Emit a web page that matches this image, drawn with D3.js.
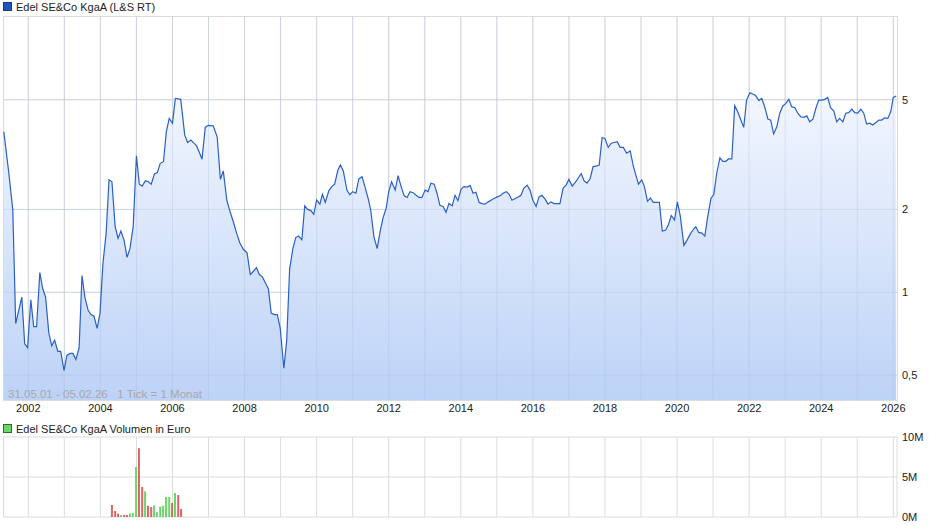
<!DOCTYPE html>
<html><head><meta charset="utf-8">
<script src="https://cdn.jsdelivr.net/npm/d3@7"></script>
<style>body{margin:0;background:#fff;font-family:"Liberation Sans",Arial,sans-serif}</style>
</head><body><svg id="c" width="940" height="526"></svg>
<script>
const dates=[2001.32,2001.46,2001.57,2001.65,2001.82,2001.90,2001.98,2002.07,2002.15,2002.23,2002.32,2002.40,2002.48,2002.57,2002.65,2002.73,2002.82,2002.90,2002.99,2003.07,2003.16,2003.24,2003.32,2003.41,2003.49,2003.57,2003.66,2003.74,2003.82,2003.91,2003.99,2004.07,2004.16,2004.24,2004.32,2004.41,2004.49,2004.57,2004.66,2004.74,2004.82,2004.91,2005.00,2005.08,2005.16,2005.25,2005.33,2005.41,2005.50,2005.58,2005.66,2005.75,2005.83,2005.91,2006.00,2006.08,2006.23,2006.34,2006.42,2006.51,2006.59,2006.67,2006.75,2006.82,2006.91,2006.99,2007.13,2007.24,2007.33,2007.41,2007.51,2007.60,2007.69,2007.78,2007.87,2007.97,2008.07,2008.16,2008.24,2008.33,2008.41,2008.49,2008.58,2008.66,2008.74,2008.83,2008.91,2008.99,2009.09,2009.17,2009.25,2009.34,2009.42,2009.50,2009.59,2009.67,2009.75,2009.84,2009.92,2010.00,2010.09,2010.16,2010.24,2010.34,2010.42,2010.50,2010.59,2010.66,2010.74,2010.84,2010.92,2011.00,2011.09,2011.17,2011.26,2011.34,2011.43,2011.50,2011.59,2011.68,2011.76,2011.84,2011.93,2012.00,2012.08,2012.18,2012.26,2012.34,2012.43,2012.51,2012.59,2012.68,2012.76,2012.84,2012.92,2013.01,2013.09,2013.17,2013.26,2013.34,2013.42,2013.51,2013.59,2013.67,2013.76,2013.84,2013.92,2014.01,2014.09,2014.17,2014.26,2014.34,2014.42,2014.51,2014.59,2014.67,2014.76,2014.84,2014.92,2015.01,2015.09,2015.17,2015.26,2015.34,2015.42,2015.51,2015.59,2015.67,2015.75,2015.84,2015.92,2016.00,2016.09,2016.17,2016.25,2016.34,2016.42,2016.50,2016.59,2016.67,2016.75,2016.84,2016.92,2017.00,2017.09,2017.17,2017.25,2017.34,2017.42,2017.50,2017.59,2017.67,2017.75,2017.84,2017.92,2018.00,2018.09,2018.17,2018.25,2018.34,2018.42,2018.51,2018.60,2018.70,2018.79,2018.93,2019.02,2019.09,2019.18,2019.26,2019.34,2019.51,2019.59,2019.68,2019.76,2019.84,2019.93,2020.01,2020.09,2020.19,2020.28,2020.37,2020.45,2020.52,2020.60,2020.69,2020.77,2020.85,2020.94,2021.02,2021.10,2021.19,2021.27,2021.35,2021.43,2021.52,2021.60,2021.68,2021.77,2021.85,2021.93,2022.02,2022.10,2022.18,2022.27,2022.35,2022.43,2022.52,2022.60,2022.68,2022.77,2022.85,2022.93,2023.02,2023.10,2023.18,2023.27,2023.35,2023.43,2023.52,2023.60,2023.68,2023.77,2023.85,2023.93,2024.02,2024.10,2024.18,2024.26,2024.35,2024.43,2024.51,2024.60,2024.68,2024.76,2024.85,2024.93,2025.01,2025.10,2025.18,2025.26,2025.35,2025.43,2025.51,2025.60,2025.68,2025.76,2025.85,2025.93,2026.00,2026.08];
const prices=[3.83,2.71,1.99,0.77,0.96,0.65,0.63,0.94,0.75,0.75,1.18,1.03,0.96,0.71,0.64,0.67,0.61,0.61,0.52,0.59,0.60,0.60,0.57,0.63,1.15,0.96,0.86,0.83,0.82,0.74,0.84,1.27,1.64,2.56,2.52,1.73,1.57,1.67,1.54,1.34,1.44,1.73,3.13,2.47,2.43,2.54,2.52,2.47,2.69,2.72,2.94,2.98,3.83,4.28,4.11,5.06,5.02,3.72,3.50,3.57,3.49,3.40,3.21,3.04,3.97,4.04,4.02,3.67,2.57,2.76,2.15,1.96,1.80,1.64,1.51,1.43,1.39,1.16,1.19,1.23,1.16,1.14,1.08,1.03,0.84,0.83,0.83,0.74,0.53,0.67,1.21,1.44,1.58,1.60,1.55,2.06,2.00,1.98,1.92,2.16,2.09,2.27,2.12,2.34,2.42,2.47,2.78,2.90,2.76,2.35,2.26,2.32,2.29,2.58,2.63,2.42,2.19,1.99,1.59,1.44,1.66,1.86,2.02,2.32,2.52,2.35,2.65,2.43,2.24,2.21,2.32,2.30,2.25,2.21,2.21,2.35,2.32,2.49,2.47,2.29,2.07,2.05,1.95,2.10,2.06,2.25,2.15,2.37,2.42,2.41,2.44,2.29,2.31,2.12,2.10,2.09,2.13,2.16,2.19,2.22,2.24,2.29,2.32,2.27,2.16,2.19,2.22,2.25,2.39,2.45,2.35,2.16,2.05,2.22,2.25,2.18,2.09,2.13,2.10,2.10,2.10,2.39,2.45,2.57,2.43,2.50,2.59,2.70,2.54,2.49,2.59,2.86,2.87,2.90,3.64,3.62,3.36,3.47,3.50,3.52,3.36,3.36,3.20,3.26,2.86,2.47,2.56,2.43,2.14,2.20,2.12,2.12,1.67,1.68,1.76,1.90,1.83,2.13,1.89,1.48,1.55,1.63,1.69,1.73,1.65,1.64,1.60,1.88,2.19,2.27,2.70,3.08,2.99,2.99,3.05,3.05,4.76,4.53,4.22,3.97,4.99,5.30,5.25,5.18,4.97,5.06,4.72,4.26,4.22,3.76,4.00,4.47,4.74,4.85,5.02,4.72,4.68,4.47,4.34,4.32,4.37,4.16,4.25,4.65,4.99,4.99,5.02,5.10,4.68,4.55,4.16,4.28,4.16,4.47,4.49,4.62,4.49,4.47,4.62,4.47,4.08,4.11,4.05,4.13,4.22,4.22,4.30,4.28,4.53,5.10,5.16];
const volDates=[2004.32,2004.41,2004.49,2004.57,2004.66,2004.74,2004.82,2004.90,2004.99,2005.07,2005.16,2005.24,2005.32,2005.41,2005.49,2005.57,2005.66,2005.74,2005.82,2005.91,2005.99,2006.07,2006.16,2006.24];
const volumes=[1.5,0.75,0.42,0.25,0.25,0.25,0.42,0.5,6.25,8.6,3.75,3.2,1.4,1.25,1.46,0.6,1.3,1.4,2.5,2.5,1.75,3.0,2.75,1.0];
const volUp=[0,0,0,1,0,0,1,1,1,0,0,1,0,0,1,1,1,1,1,1,0,1,0,0];
const yearTicks=[2002,2004,2006,2008,2010,2012,2014,2016,2018,2020,2022,2024,2026];
const priceTicks=[0.5,1,2,5];
const priceTickLabels=["0,5","1","2","5"];
const volTicks=[0,5,10];
const volTickLabels=["0M","5M","10M"];

const svg=d3.select("#c");
const L=3,R=897,T=16,B=400,VT=437,VB=517;
const x=d3.scaleLinear().domain([2002,2026]).range([28.3,893.3]);
const y=d3.scaleLog().domain([1,5]).range([292.3,99.8]);
const yv=d3.scaleLinear().domain([0,10]).range([VB,VT]);
const grid="#dcdcdc";
const defs=svg.append("defs");
const g=defs.append("linearGradient").attr("id","gr").attr("x1",0).attr("x2",0).attr("y1",0).attr("y2",1);
g.append("stop").attr("offset","0%").attr("stop-color","#f2f6fe");
g.append("stop").attr("offset","100%").attr("stop-color","#b9d0f6");
defs.append("clipPath").attr("id","cp").append("rect").attr("x",L).attr("y",T).attr("width",R-L).attr("height",B-T);

// main grid
const allYears=d3.range(2002,2027);
svg.selectAll(".vg").data(allYears).enter().append("line").attr("x1",d=>x(d)).attr("x2",d=>x(d)).attr("y1",T).attr("y2",B).attr("stroke",grid);
svg.selectAll(".hg").data(priceTicks).enter().append("line").attr("x1",L).attr("x2",R).attr("y1",d=>y(d)).attr("y2",d=>y(d)).attr("stroke",grid);
svg.append("rect").attr("x",L+0.5).attr("y",T+0.5).attr("width",R-L).attr("height",B-T).attr("fill","none").attr("stroke",grid);

const pts=dates.map((d,i)=>[d,prices[i]]);
svg.append("path").datum(pts).attr("clip-path","url(#cp)").attr("fill","url(#gr)").attr("fill-opacity",0.95)
 .attr("d",d3.area().x(d=>x(d[0])).y0(B).y1(d=>y(d[1])));
// grid over fill (faint)
svg.selectAll(".vg2").data(allYears).enter().append("line").attr("x1",d=>x(d)).attr("x2",d=>x(d)).attr("y1",T).attr("y2",B).attr("stroke","#9fb8de").attr("stroke-opacity",0.25);
svg.selectAll(".hg2").data(priceTicks).enter().append("line").attr("x1",L).attr("x2",R).attr("y1",d=>y(d)).attr("y2",d=>y(d)).attr("stroke","#9fb8de").attr("stroke-opacity",0.25);
svg.append("path").datum(pts).attr("fill","none").attr("stroke","#2a60c6").attr("stroke-width",1.2)
 .attr("d",d3.line().x(d=>x(d[0])).y(d=>y(d[1])));

// axes labels
svg.selectAll(".yl").data(priceTicks).enter().append("text").attr("x",902).attr("y",d=>y(d)+4).attr("font-size",11).attr("fill","#222").text((d,i)=>priceTickLabels[i]);
svg.selectAll(".xl").data(yearTicks).enter().append("text").attr("x",d=>x(d)).attr("y",412).attr("text-anchor","middle").attr("font-size",11).attr("fill","#222").text(d=>d);
svg.append("text").attr("x",8).attr("y",398).attr("font-size",11.5).attr("fill","#a8a8a8").attr("xml:space","preserve").text("31.05.01 - 05.02.26   1 Tick = 1 Monat");

// legends
svg.append("rect").attr("x",3.5).attr("y",2.5).attr("width",8).attr("height",8).attr("fill","#1f56bd").attr("stroke","#123a80");
svg.append("text").attr("x",16).attr("y",10.5).attr("font-size",11).attr("fill","#222").text("Edel SE&Co KgaA (L&S RT)");
svg.append("rect").attr("x",3.5).attr("y",424.5).attr("width",8).attr("height",8).attr("fill","#6bd76b").attr("stroke","#2e6b2e");
svg.append("text").attr("x",16).attr("y",432.5).attr("font-size",11).attr("fill","#222").text("Edel SE&Co KgaA Volumen in Euro");

// volume panel
svg.selectAll(".vvg").data(allYears).enter().append("line").attr("x1",d=>x(d)).attr("x2",d=>x(d)).attr("y1",VT).attr("y2",VB).attr("stroke",grid);
svg.selectAll(".vhg").data(volTicks).enter().append("line").attr("x1",L).attr("x2",R).attr("y1",d=>yv(d)).attr("y2",d=>yv(d)).attr("stroke",grid);
svg.append("line").attr("x1",L+0.5).attr("x2",L+0.5).attr("y1",VT).attr("y2",VB).attr("stroke",grid);
svg.append("line").attr("x1",R).attr("x2",R).attr("y1",VT).attr("y2",VB).attr("stroke",grid);
svg.selectAll(".vb").data(volumes).enter().append("rect").attr("x",(d,i)=>x(volDates[i])-1).attr("width",2)
 .attr("y",d=>yv(d)).attr("height",d=>VB-yv(d)).attr("fill",(d,i)=>volUp[i]?"#6dd66b":"#dd6464");
svg.selectAll(".vl").data(volTicks).enter().append("text").attr("x",902).attr("y",d=>yv(d)+4).attr("font-size",11).attr("fill","#222").text((d,i)=>volTickLabels[i]);
</script></body></html>
